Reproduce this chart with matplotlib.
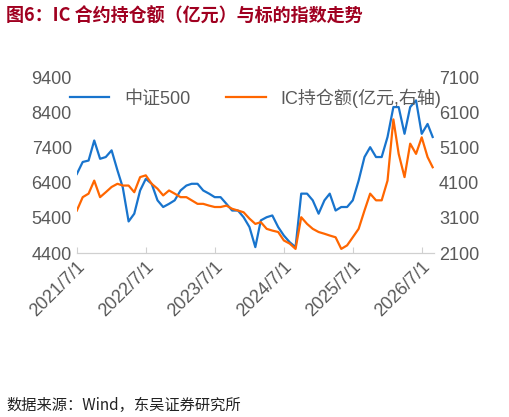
import pandas as pd
import matplotlib.pyplot as plt
import matplotlib.dates as mdates

plt.rcParams['font.family'] = ['Liberation Sans', 'Noto Sans CJK SC', 'DejaVu Sans']

dates = list(pd.date_range("2021-07-01", "2026-08-01", freq="MS")) + [pd.Timestamp("2026-08-28")]
csi500 = [6650, 6990, 7030, 7600, 7080, 7130, 7320, 6750, 6270, 5300, 5520, 6180,
          6510, 6370, 5900, 5710, 5800, 5900, 6180, 6320, 6370, 6370, 6180, 6090,
          5990, 5990, 5800, 5610, 5610, 5420, 5140, 4570, 5330, 5420, 5470, 5140,
          4900, 4710, 4570, 6090, 6090, 5900, 5520, 5900, 6090, 5610, 5710, 5710,
          5900, 6460, 7130, 7410, 7130, 7130, 7700, 8550, 8550, 7790, 8550, 8740,
          7790, 8070, 7700]
ic_hold = [3310, 3690, 3790, 4160, 3690, 3830, 3980, 4070, 4020, 4020, 3830, 4260,
           4310, 4070, 3930, 3740, 3880, 3790, 3690, 3690, 3600, 3500, 3500, 3450,
           3410, 3410, 3450, 3360, 3310, 3260, 3080, 2930, 2980, 2790, 2740, 2700,
           2460, 2370, 2220, 3120, 2930, 2790, 2700, 2650, 2600, 2550, 2220, 2320,
           2550, 2790, 3310, 3790, 3600, 3600, 4160, 5900, 4920, 4260, 5210, 4920,
           5390, 4830, 4540]

grey = "#595959"
fig = plt.figure(figsize=(5.09, 4.17), dpi=100)
ax = fig.add_axes([0.151, 0.393, 0.702, 0.422])
ax2 = ax.twinx()

l1, = ax.plot(dates, csi500, color="#1874CD", lw=1.6, label="中证500")
l2, = ax2.plot(dates, ic_hold, color="#FF6600", lw=1.6, label="IC持仓额(亿元,右轴)")

ax.set_ylim(4400, 9400)
ax.set_yticks(range(4400, 9401, 1000))
ax2.set_ylim(2100, 7100)
ax2.set_yticks(range(2100, 7101, 1000))
ax.set_xlim(pd.Timestamp("2021-07-01"), pd.Timestamp("2026-09-05"))
ax.set_xticks(pd.date_range("2021-07-01", "2026-07-01", freq="12MS"))
ax.xaxis.set_major_formatter(mdates.DateFormatter("%Y/%-m/%-d"))

for a in (ax, ax2):
    for s in ["top", "left", "right"]:
        a.spines[s].set_visible(False)
    a.spines["bottom"].set_color("#d0d0d0")
    a.tick_params(labelsize=13, colors=grey, length=0)
ax.tick_params(axis="x", length=4, color="#d0d0d0", direction="in")
for t in ax.get_xticklabels():
    t.set_rotation(45)
    t.set_ha("right")
    t.set_rotation_mode("anchor")

ax.legend([l1, l2], [l1.get_label(), l2.get_label()], loc="upper center",
          bbox_to_anchor=(0.5, 1.03), ncol=2, frameon=False, fontsize=13,
          labelcolor=grey, handlelength=2.2, columnspacing=2.0)

fig.text(0.012, 0.962, "图6：IC 合约持仓额（亿元）与标的指数走势", fontsize=13,
         fontweight="bold", color="#A00020", va="center",
         family=["Noto Sans CJK SC", "DejaVu Sans"])
fig.text(0.012, 0.028, "数据来源：Wind，东吴证券研究所", fontsize=11,
         color="#222222", va="center", family=["Noto Sans CJK SC", "DejaVu Sans"])

plt.savefig("out.png")
